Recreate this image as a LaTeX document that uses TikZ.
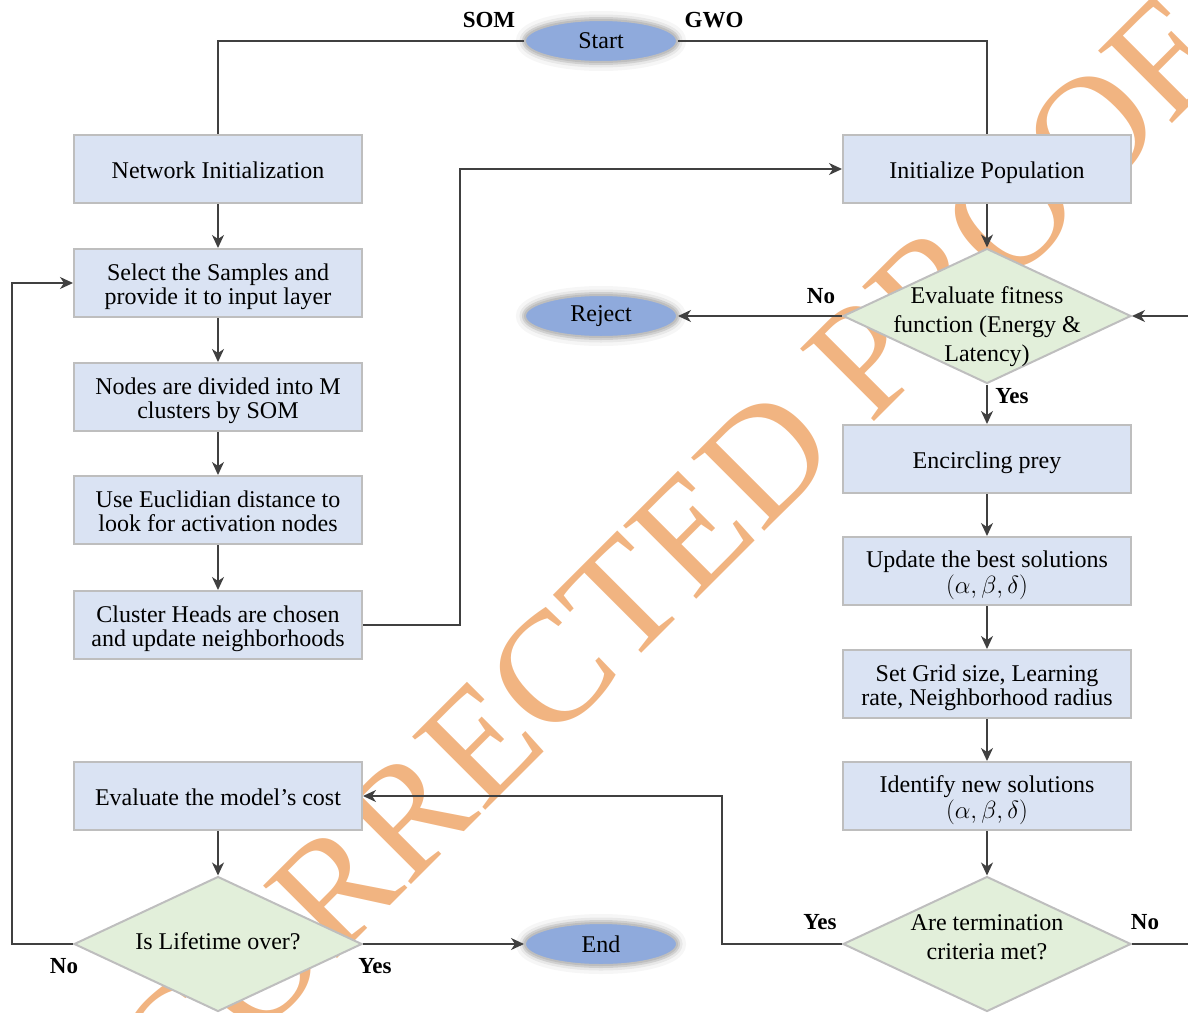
\documentclass[tikz,border=0pt]{standalone}
\usepackage{fontspec}
\setmainfont{Liberation Serif}
\usetikzlibrary{arrows.meta,shapes.geometric,calc}
\definecolor{boxfill}{RGB}{218,227,243}
\definecolor{boxline}{RGB}{190,190,190}
\definecolor{decfill}{RGB}{226,239,218}
\definecolor{ellfill}{RGB}{143,170,220}
\definecolor{linecol}{RGB}{64,64,64}
\definecolor{wmcol}{RGB}{241,180,129}
% box text: first row given extra height so the text sits as in the reference
\newcommand{\btext}[1]{\begin{tabular}{@{}c@{}}\rule{0pt}{26pt}#1\end{tabular}}
% diamond text: zero width so the diamond keeps its set size
\newcommand{\dtext}[3]{\makebox[0pt]{\begin{tabular}{@{}c@{}}\rule{0pt}{#1}#3\rule[-#2]{0pt}{#2}\end{tabular}}}
\begin{document}
\begin{tikzpicture}[x=1pt,y=-1pt,
  every node/.style={font=\fontsize{24}{23}\selectfont},
  procbox/.style={rectangle, draw=boxline, fill=boxfill, line width=2pt, minimum width=288pt, minimum height=68pt, inner sep=0pt},
  decbox/.style={diamond, draw=boxline, fill=decfill, line width=2pt, minimum width=288pt, minimum height=135pt, inner sep=0pt, font=\fontsize{24}{29}\selectfont},
  termbox/.style={ellipse, draw=boxline, fill=ellfill, line width=2pt, minimum width=152pt, minimum height=42pt, inner sep=0pt,
     preaction={draw=black, draw opacity=0.035, line width=18pt},
     preaction={draw=black, draw opacity=0.06, line width=11pt},
     preaction={draw=black, draw opacity=0.10, line width=6pt}},
  conn/.style={draw=linecol, line width=1.5pt},
  arr/.style={conn, -{Stealth[length=13pt,width=12pt,inset=4pt]}},
  lab/.style={font=\fontsize{23}{23}\selectfont\bfseries, inner sep=0pt},
]
\useasboundingbox (0,0) rectangle (1188,1012);
\clip (0,0) rectangle (1188,1012);
% watermark (behind the diagram)
\node[text=wmcol, rotate=45, inner sep=0pt, font=\fontsize{158}{158}\selectfont] (wmk) at (587,636) {UNCORRECTED PROOF};

% terminals
\node[termbox] (start) at (601,41) {Start};
\node[termbox] (reject) at (601,316) {Reject};
\node[termbox] (end) at (601,944) {End};

% left column
\node[procbox] (net) at (218,169) {\btext{Network Initialization}};
\node[procbox] (sel) at (218,283) {\btext{Select the Samples and\\provide it to input layer}};
\node[procbox] (div) at (218,397) {\btext{Nodes are divided into M\\clusters by SOM}};
\node[procbox] (euc) at (218,510) {\btext{Use Euclidian distance to\\look for activation nodes}};
\node[procbox] (ch) at (218,625) {\btext{Cluster Heads are chosen\\and update neighborhoods}};
\node[procbox] (cost) at (218,796) {\btext{Evaluate the model’s cost}};
\node[decbox] (life) at (218,944) {\dtext{20pt}{9pt}{Is Lifetime over?}};

% right column
\node[procbox] (pop) at (987,169) {\btext{Initialize Population}};
\node[decbox] (fit) at (987,316) {\dtext{42pt}{9pt}{Evaluate fitness\\function (Energy \&\\Latency)}};
\node[procbox] (enc) at (987,459) {\btext{Encircling prey}};
\node[procbox] (upd) at (987,571) {\btext{Update the best solutions\\$(\alpha,\beta,\delta)$}};
\node[procbox] (grid) at (987,684) {\btext{Set Grid size, Learning\\rate, Neighborhood radius}};
\node[procbox] (iden) at (987,796) {\btext{Identify new solutions\\$(\alpha,\beta,\delta)$}};
\node[decbox] (term) at (987,944) {\dtext{20pt}{18pt}{Are termination\\criteria met?}};

% labels
\node[lab] (som) at (489,20) {SOM};
\node[lab] (gwo) at (714,20) {GWO};
\node[lab] (fitno) at (821,296) {No};
\node[lab] (fityes) at (1012,396) {Yes};
\node[lab] (termyes) at (820,922) {Yes};
\node[lab] (termno) at (1145,922) {No};
\node[lab] (lifeno) at (64,966) {No};
\node[lab] (lifeyes) at (375,966) {Yes};

% connectors
\draw[conn] (start.west) -| (net.north);
\draw[conn] (start.east) -| (pop.north);
\draw[arr] (net) -- (sel);
\draw[arr] (sel) -- (div);
\draw[arr] (div) -- (euc);
\draw[arr] (euc) -- (ch);
\draw[arr] (ch.east) -- ++(97,0) |- (pop.west);
\draw[arr] (pop.south) -- (fit.north);
\draw[arr] (fit.west) -- (reject.east);
\draw[arr] (fit.south) -- (enc.north);
\draw[arr] (enc) -- (upd);
\draw[arr] (upd) -- (grid);
\draw[arr] (grid) -- (iden);
\draw[arr] (iden.south) -- (term.north);
\draw[arr] (term.east) -- ++(80,0) |- (fit.east);
\draw[arr] (term.west) -- ++(-120,0) |- (cost.east);
\draw[arr] (cost.south) -- (life.north);
\draw[arr] (life.west) -- ++(-61,0) |- (sel.west);
\draw[arr] (life.east) -- (end.west);
\end{tikzpicture}
\end{document}
